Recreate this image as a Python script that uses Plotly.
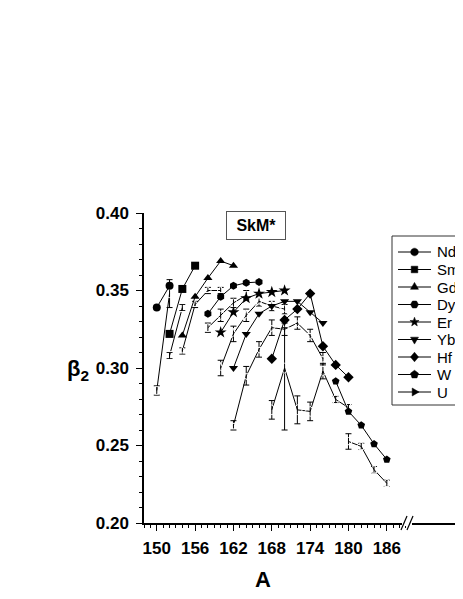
import math
import plotly.graph_objects as go

# ---------------- data ----------------
A_Nd = [150, 152]
Nd = [0.339, 0.353]
A_Sm = [152, 154, 156]
Sm = [0.322, 0.351, 0.366]
A_Gd = [154, 156, 158, 160, 162]
Gd = [0.321, 0.346, 0.358, 0.369, 0.366]
A_Dy = [158, 160, 162, 164, 166]
Dy = [0.335, 0.346, 0.353, 0.355, 0.3555]
A_Er = [160, 162, 164, 166, 168, 170]
Er = [0.323, 0.336, 0.345, 0.348, 0.349, 0.350]
A_Yb = [162, 164, 166, 168, 170, 172, 174, 176]
Yb = [0.300, 0.322, 0.335, 0.340, 0.343, 0.343, 0.336, 0.329]
A_Hf = [168, 170, 172, 174, 176, 178, 180]
Hf = [0.306, 0.331, 0.338, 0.348, 0.314, 0.302, 0.294]
A_W = [178, 180, 182, 184, 186]
W = [0.2915, 0.272, 0.263, 0.251, 0.241]
A_U = [None]
U = [None]

# experimental (open symbols, with error bars)
A_Nd_e = [150, 152]
Nd_e = [0.2855, 0.348]
Nd_err = [0.003, 0.009]
A_Sm_e = [152, 154]
Sm_e = [0.308, 0.339]
Sm_err = [0.002, 0.002]
A_Gd_e = [154, 156, 158, 160]
Gd_e = [0.311, 0.341, 0.350, 0.350]
Gd_err = [0.002, 0.002, 0.002, 0.002]
A_Dy_e = [158, 160, 162, 164]
Dy_e = [0.326, 0.334, 0.342, 0.347]
Dy_err = [0.003, 0.004, 0.003, 0.003]
A_Er_e = [160, 162, 164, 166, 168, 170]
Er_e = [0.300, 0.322, 0.334, 0.343, 0.340, 0.338]
Er_err = [0.005, 0.005, 0.004, 0.003, 0.003, 0.003]
A_Yb_e = [162, 164, 166, 168, 170, 172, 174, 176]
Yb_e = [0.263, 0.295, 0.312, 0.326, 0.325, 0.329, 0.321, 0.306]
Yb_err = [0.003, 0.006, 0.005, 0.005, 0.004, 0.004, 0.004, 0.004]
A_Hf_e = [168, 170, 172, 174, 176, 178, 180]
Hf_e = [0.273, 0.300, 0.273, 0.272, 0.298, 0.2797, 0.2744]
Hf_err_plus = [0.006, 0.026, 0.009, 0.006, 0.005, 0.002, 0.002]
Hf_err_minus = [0.006, 0.040, 0.009, 0.006, 0.005, 0.002, 0.002]
A_W_e = [180, 182, 184, 186]
W_e = [0.2526, 0.2494, 0.2344, 0.2256]
W_err = [0.005, 0.002, 0.002, 0.002]

x_tick_vals = [150, 156, 162, 168, 174, 180, 186]
x_tick_text = ["150", "156", "162", "168", "174", "180", "186"]
y_tick_vals = [0.20, 0.25, 0.30, 0.35, 0.40]
y_tick_text = ["0.20", "0.25", "0.30", "0.35", "0.40"]

legend_names = ["Nd", "Sm", "Gd", "Dy", "Er", "Yb", "Hf", "W", "U"]

# ---------------- layout geometry ----------------
FW, FH = 463, 599
ML, MR, MT, MB = 136, 0, 205, 84
PW = FW - ML - MR
PH = FH - MT - MB
X0 = 148
PX_PER_UNIT = 6.39
X1 = X0 + PW / PX_PER_UNIT


def px(xp):
    return (xp - ML) / PW


def py(yp):
    return 1 - (yp - MT) / PH


FONT = "Liberation Sans, Arial, sans-serif"

fig = go.Figure()

filled = [
    (A_Nd, Nd, "circle"),
    (A_Sm, Sm, "square"),
    (A_Gd, Gd, "triangle-up"),
    (A_Dy, Dy, "hexagon"),
    (A_Er, Er, "star"),
    (A_Yb, Yb, "triangle-down"),
    (A_Hf, Hf, "diamond"),
    (A_W, W, "pentagon"),
    (A_U, U, "triangle-right"),
]

opened = [
    (A_Nd_e, Nd_e, Nd_err, Nd_err, "circle-open"),
    (A_Sm_e, Sm_e, Sm_err, Sm_err, "square-open"),
    (A_Gd_e, Gd_e, Gd_err, Gd_err, "triangle-up-open"),
    (A_Dy_e, Dy_e, Dy_err, Dy_err, "hexagon-open"),
    (A_Er_e, Er_e, Er_err, Er_err, "star-open"),
    (A_Yb_e, Yb_e, Yb_err, Yb_err, "triangle-down-open"),
    (A_Hf_e, Hf_e, Hf_err_plus, Hf_err_minus, "diamond-open"),
    (A_W_e, W_e, W_err, W_err, "pentagon-open"),
]

for xs, ys, ep, em, sym in opened:
    fig.add_trace(go.Scatter(
        x=xs, y=ys, mode="lines+markers", showlegend=False,
        line=dict(color="black", width=1),
        marker=dict(symbol=sym, size=8, color="white",
                    line=dict(color="black", width=1)),
        error_y=dict(type="data", array=ep, arrayminus=em, symmetric=False,
                     color="black", thickness=1, width=3),
    ))

for (xs, ys, sym), name in zip(filled, legend_names):
    size = 9 if sym == "star" else 8
    fig.add_trace(go.Scatter(
        x=xs, y=ys, mode="lines+markers", name=name, showlegend=False,
        line=dict(color="black", width=1),
        marker=dict(symbol=sym, size=size, color="black",
                    line=dict(color="black", width=0)),
    ))

# ---------------- legend (drawn as layout glyphs) ----------------
def regular(n, r, rot=-90.0):
    return [(r * math.cos(math.radians(rot + 360.0 * k / n)),
             r * math.sin(math.radians(rot + 360.0 * k / n))) for k in range(n)]


def star_pts(ro, ri):
    pts = []
    for k in range(10):
        r = ro if k % 2 == 0 else ri
        a = math.radians(-90 + 36 * k)
        pts.append((r * math.cos(a), r * math.sin(a)))
    return pts


glyph_pts = {
    "circle": regular(20, 3.8),
    "square": [(-3.3, -3.3), (3.3, -3.3), (3.3, 3.3), (-3.3, 3.3)],
    "triangle-up": regular(3, 4.6, -90),
    "hexagon": regular(6, 4.0, 0),
    "star": star_pts(4.8, 2.0),
    "triangle-down": regular(3, 4.6, 90),
    "diamond": [(0, -4.8), (4.0, 0), (0, 4.8), (-4.0, 0)],
    "pentagon": regular(5, 4.2, -90),
    "triangle-right": regular(3, 4.6, 0),
}


def glyph_path(cx, cy, pts):
    s = "M {:.5f},{:.5f}".format(px(cx + pts[0][0]), py(cy + pts[0][1]))
    for dx, dy in pts[1:]:
        s += " L {:.5f},{:.5f}".format(px(cx + dx), py(cy + dy))
    return s + " Z"


LG_LEFT, LG_TOP, LG_BOTTOM = 384, 228, 397
LG_Y0, LG_DY = 244, 17.5
LN_X0, LN_X1, MK_X, TX_X = 390, 423, 406.5, 427

shapes = [
    dict(type="rect", xref="paper", yref="paper",
         x0=px(LG_LEFT), x1=px(FW + 30), y0=py(LG_BOTTOM), y1=py(LG_TOP),
         fillcolor="white", line=dict(color="#333333", width=1), layer="above"),
]
annotations = []
for i, ((_, _, sym), name) in enumerate(zip(filled, legend_names)):
    yy = LG_Y0 + LG_DY * i
    shapes.append(dict(type="line", xref="paper", yref="paper",
                       x0=px(LN_X0), x1=px(LN_X1), y0=py(yy), y1=py(yy),
                       line=dict(color="black", width=1), layer="above"))
    shapes.append(dict(type="path", xref="paper", yref="paper",
                       path=glyph_path(MK_X, yy, glyph_pts[sym]),
                       fillcolor="black", line=dict(color="black", width=0.5),
                       layer="above"))
    annotations.append(dict(text=name, x=px(TX_X), y=py(yy), xref="paper", yref="paper",
                            xanchor="left", yanchor="middle", showarrow=False,
                            font=dict(family=FONT, size=15, color="black")))

# axis break marks
BRK = 399
shapes += [
    dict(type="rect", xref="paper", yref="paper",
         x0=px(BRK - 5), x1=px(BRK + 5), y0=py(FH - MB + 3), y1=py(FH - MB - 3),
         fillcolor="white", line=dict(width=0), layer="above"),
    dict(type="line", xref="paper", yref="paper",
         x0=px(BRK - 6), y0=py(FH - MB + 7), x1=px(BRK), y1=py(FH - MB - 7),
         line=dict(color="black", width=1.2), layer="above"),
    dict(type="line", xref="paper", yref="paper",
         x0=px(BRK), y0=py(FH - MB + 7), x1=px(BRK + 6), y1=py(FH - MB - 7),
         line=dict(color="black", width=1.2), layer="above"),
]

annotations += [
    dict(text="<b>&nbsp;SkM*&nbsp;</b>", x=px(248), y=py(217), xref="paper", yref="paper",
         xanchor="center", yanchor="middle",
         showarrow=False, font=dict(family=FONT, size=16, color="black"),
         bordercolor="#555555", borderwidth=1, borderpad=5, bgcolor="white"),
    dict(text="<b>A</b>", x=px(255), y=py(571), xref="paper", yref="paper",
         xanchor="center", yanchor="middle",
         showarrow=False, font=dict(family=FONT, size=22, color="black")),
    dict(text="<b>β<sub>2</sub></b>", x=px(70), y=py(362), xref="paper", yref="paper",
         xanchor="center", yanchor="middle",
         showarrow=False, font=dict(family=FONT, size=22, color="black")),
]

fig.update_layout(
    width=FW, height=FH,
    margin=dict(l=ML, r=MR, t=MT, b=MB, pad=0, autoexpand=False),
    paper_bgcolor="white", plot_bgcolor="white",
    font=dict(family=FONT, color="black"),
    showlegend=False,
    shapes=shapes,
    annotations=annotations,
    xaxis=dict(range=[X0, X1], showgrid=False, zeroline=False,
               showline=True, linecolor="black", linewidth=1.5,
               ticks="outside", ticklen=6, tickwidth=1.2, tickcolor="black",
               tickvals=x_tick_vals, ticktext=x_tick_text, ticklabelstandoff=3,
               tickfont=dict(family=FONT, size=17, weight="bold"),
               minor=dict(tickvals=list(range(148, 190)), ticks="outside",
                          ticklen=3, tickwidth=1, tickcolor="black")),
    yaxis=dict(range=[0.2, 0.4], showgrid=False, zeroline=False,
               showline=True, linecolor="black", linewidth=1.5,
               ticks="outside", ticklen=6, tickwidth=1.2, tickcolor="black",
               tickvals=y_tick_vals, ticktext=y_tick_text, ticklabelstandoff=4,
               tickfont=dict(family=FONT, size=17, weight="bold"),
               minor=dict(dtick=0.01, tick0=0.2, ticks="outside",
                          ticklen=3, tickwidth=1, tickcolor="black")),
)

fig.write_html("out.html")
